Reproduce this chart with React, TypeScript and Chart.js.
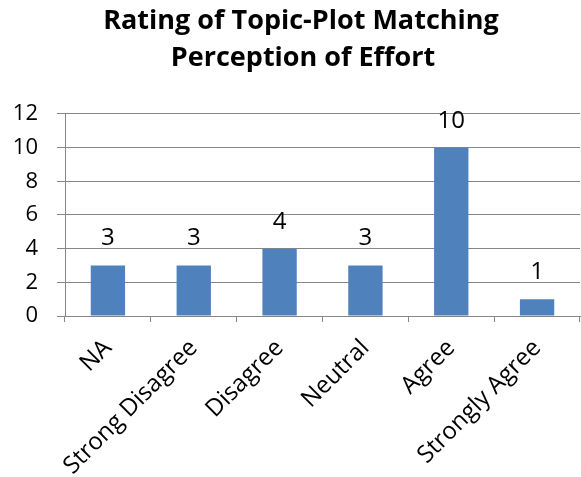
import React, { useEffect, useRef } from "react";
import { Chart, registerables } from "chart.js";

Chart.register(...registerables);

const categories = ["NA", "Strong Disagree", "Disagree", "Neutral", "Agree", "Strongly Agree"];
const counts = [3, 3, 4, 3, 10, 1];
const titleLines = ["Rating of Topic-Plot Matching", "Perception of Effort"];

const FONT = "'Open Sans', 'Liberation Sans', sans-serif";

const valueLabels = {
  id: "valueLabels",
  afterDatasetsDraw(chart: any) {
    const ctx = chart.ctx;
    const meta = chart.getDatasetMeta(0);
    ctx.save();
    ctx.font = `24px ${FONT}`;
    ctx.fillStyle = "#000";
    ctx.textAlign = "center";
    ctx.textBaseline = "alphabetic";
    meta.data.forEach((bar: any, i: number) => {
      ctx.fillText(String(counts[i]), bar.x, bar.y - 20);
    });
    ctx.restore();
  },
};

// Draws the title slightly right of canvas centre, as in the reference
const shiftedTitle = {
  id: "shiftedTitle",
  afterDraw(chart: any) {
    const ctx = chart.ctx;
    ctx.save();
    ctx.font = `bold 27px ${FONT}`;
    ctx.fillStyle = "#000";
    ctx.textAlign = "center";
    ctx.textBaseline = "alphabetic";
    ctx.fillText(titleLines[0], 301, 29);
    ctx.fillText(titleLines[1], 303, 66);
    ctx.restore();
  },
};

export default function App() {
  const ref = useRef<HTMLCanvasElement>(null);
  useEffect(() => {
    if (!ref.current) return;
    const chart = new Chart(ref.current, {
      type: "bar",
      data: {
        labels: categories,
        datasets: [
          {
            data: counts,
            backgroundColor: "#4F81BD",
            barPercentage: 0.4,
            categoryPercentage: 1,
          },
        ],
      },
      plugins: [valueLabels, shiftedTitle],
      options: {
        animation: false,
        responsive: false,
        maintainAspectRatio: false,
        layout: { padding: { left: 0, right: 1, top: 0, bottom: 0 } },
        plugins: {
          legend: { display: false },
          tooltip: { enabled: false },
          title: {
            display: true,
            text: titleLines,
            color: "rgba(0,0,0,0)",
            font: { family: FONT, size: 27, weight: "bold", lineHeight: 1.37 },
            padding: { top: 0, bottom: 40 },
          },
        },
        scales: {
          x: {
            grid: {
              display: true,
              drawOnChartArea: false,
              drawTicks: true,
              tickLength: 6,
              color: "#868686",
              offset: true,
            },
            border: { display: true, color: "#868686", width: 1 },
            ticks: {
              color: "#000",
              font: { family: FONT, size: 24 },
              maxRotation: 45,
              minRotation: 45,
              padding: 12,
            },
            afterFit(scale: any) {
              scale.height = 161;
            },
          },
          y: {
            min: 0,
            max: 12,
            grid: {
              color: "#868686",
              tickLength: 8,
              drawTicks: true,
            },
            border: { display: true, color: "#868686", width: 1 },
            ticks: {
              stepSize: 2,
              color: "#000",
              font: { family: FONT, size: 22 },
              padding: 19,
            },
            afterFit(scale: any) {
              scale.width = 65;
            },
          },
        },
      },
    } as any);
    return () => chart.destroy();
  }, []);
  return (
    <div style={{ position: "absolute", left: 0, top: 0, width: 581, height: 477, background: "#fff" }}>
      <canvas ref={ref} width={581} height={477} style={{ width: 581, height: 477 }} />
    </div>
  );
}
